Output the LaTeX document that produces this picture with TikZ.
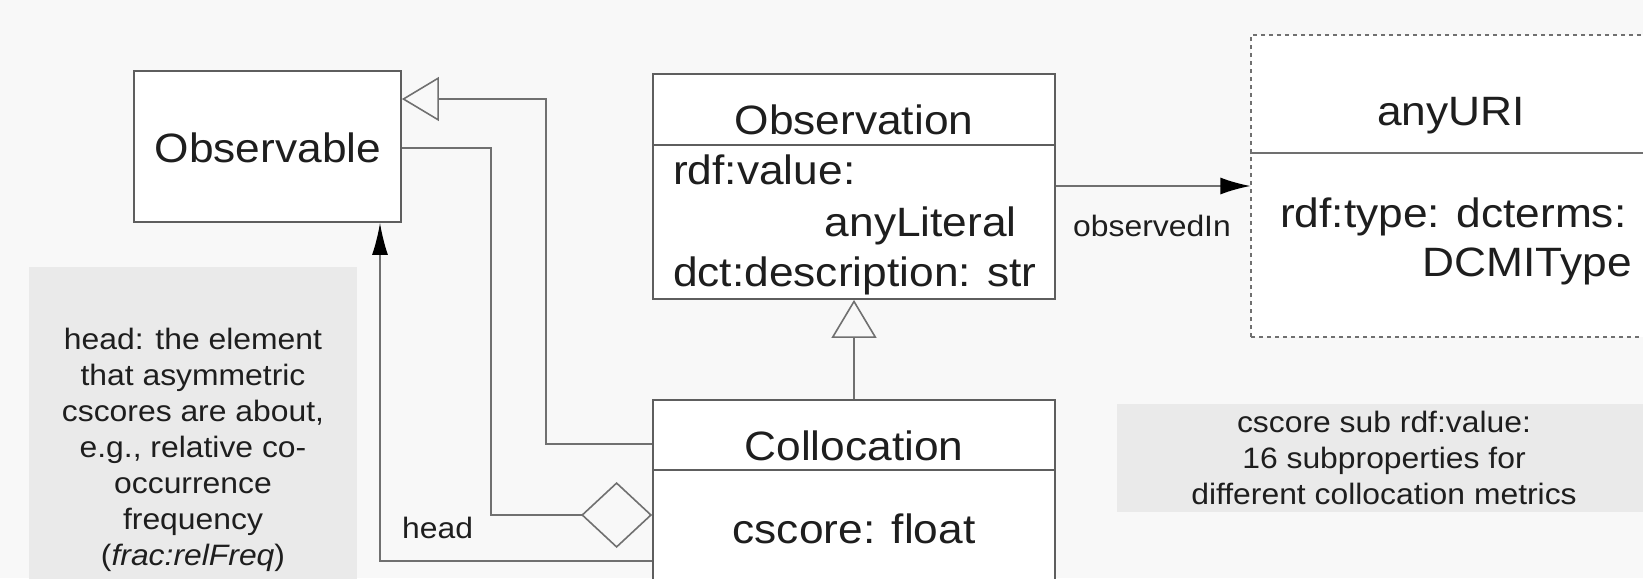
\documentclass[tikz,border=0pt]{standalone}
\usepackage{fontspec}
\setmainfont{Liberation Sans}[FakeStretch=1.08]
\usetikzlibrary{arrows.meta}
\definecolor{bggray}{HTML}{F8F8F8}
\definecolor{notegray}{HTML}{EAEAEA}
\definecolor{boxgray}{HTML}{5E5E5E}
\definecolor{linegray}{HTML}{707070}
\definecolor{textdark}{HTML}{1E1E1E}
\begin{document}
\begin{tikzpicture}[x=1pt,y=-1pt,
	classbox/.style={draw=boxgray, line width=1.8pt, fill=white, inner sep=0},
	lbl/.style={inner sep=0, text=textdark, font=\fontsize{41}{50}\selectfont},
	small/.style={inner sep=0, text=textdark, font=\fontsize{29.5}{36}\selectfont},
	note/.style={fill=notegray, inner sep=0, align=center, text=textdark, font=\fontsize{29.5}{36}\selectfont},
	conn/.style={draw=linegray, line width=1.6pt}]
	\path[use as bounding box, clip] (0,0) rectangle (1643,578);
	\fill[bggray] (0,0) rectangle (1643,578);
	% notes
	\node[note, minimum width=328pt, minimum height=366pt] (headnote) at (193,450) {head: the element\\that asymmetric\\cscores are about,\\e.g., relative co-\\occurrence\\frequency\\(\textit{frac:relFreq})};
	\node[note, minimum width=534pt, minimum height=108pt] (subnote) at (1384,458) {cscore sub rdf:value:\\16 subproperties for\\different collocation metrics};
	% classes
	\node[classbox, minimum width=267pt, minimum height=151pt] (obsv) at (267.5,146.5) {};
	\node[classbox, minimum width=402pt, minimum height=225pt] (obs) at (854,186.5) {};
	\node[classbox, minimum width=402pt, minimum height=240pt] (coll) at (854,520) {};
	\node[classbox, draw=linegray, line width=1.2pt, dash pattern=on 4pt off 4pt, minimum width=500pt, minimum height=302pt] (uri) at (1501,186) {};
	\draw[boxgray, line width=1.8pt] (obs.west |- 0,145) -- (obs.east |- 0,145);
	\draw[boxgray, line width=1.8pt] (coll.west |- 0,470) -- (coll.east |- 0,470);
	\draw[linegray, line width=1.6pt] (uri.west |- 0,153) -- (uri.east |- 0,153);
	\node[lbl, anchor=base] (obsvname) at (268,162) {Observable};
	\node[lbl, anchor=base] (obsname) at (854,134.5) {Observation};
	\node[lbl, anchor=base west] (obsval) at (673,184) {rdf:value:};
	\node[lbl, anchor=base east] (obslit) at (1017,236) {anyLiteral};
	\node[lbl, anchor=base west] (obsdesc) at (673,286) {dct:description: str};
	\node[lbl, anchor=base] (collname) at (854,460) {Collocation};
	\node[lbl, anchor=base] (collscore) at (854,543) {cscore: float};
	\node[lbl, anchor=base] (uriname) at (1451,125) {anyURI};
	\node[lbl, anchor=base west] (uritype) at (1280,227) {rdf:type: dcterms:};
	\node[lbl, anchor=base east] (uridcmi) at (1632,276) {DCMIType};
	% connectors
	\draw[conn, -{Triangle[open,length=37pt,width=44pt]}] (coll.west |- 0,444) -| (546,99) -- (obsv.east |- 0,99);
	\draw[conn, {Diamond[open,length=71pt,width=66pt]}-] (coll.west |- 0,515) -| (491,148) -- (obsv.east |- 0,148);
	\draw[conn, -{Latex[length=32pt,width=16pt,color=black]}] (coll.west |- 0,561) -| (obsv.south -| 380,0);
	\node[small, anchor=base west] (headlbl) at (402,538) {head};
	\draw[conn, -{Triangle[open,length=38pt,width=45pt]}] (coll.north) -- (obs.south);
	\draw[conn, -{Latex[length=30pt,width=17pt,color=black]}] (obs.east |- 0,186) -- (uri.west |- 0,186);
	\node[small, anchor=base] (obsin) at (1152,236) {observedIn};
\end{tikzpicture}
\end{document}
